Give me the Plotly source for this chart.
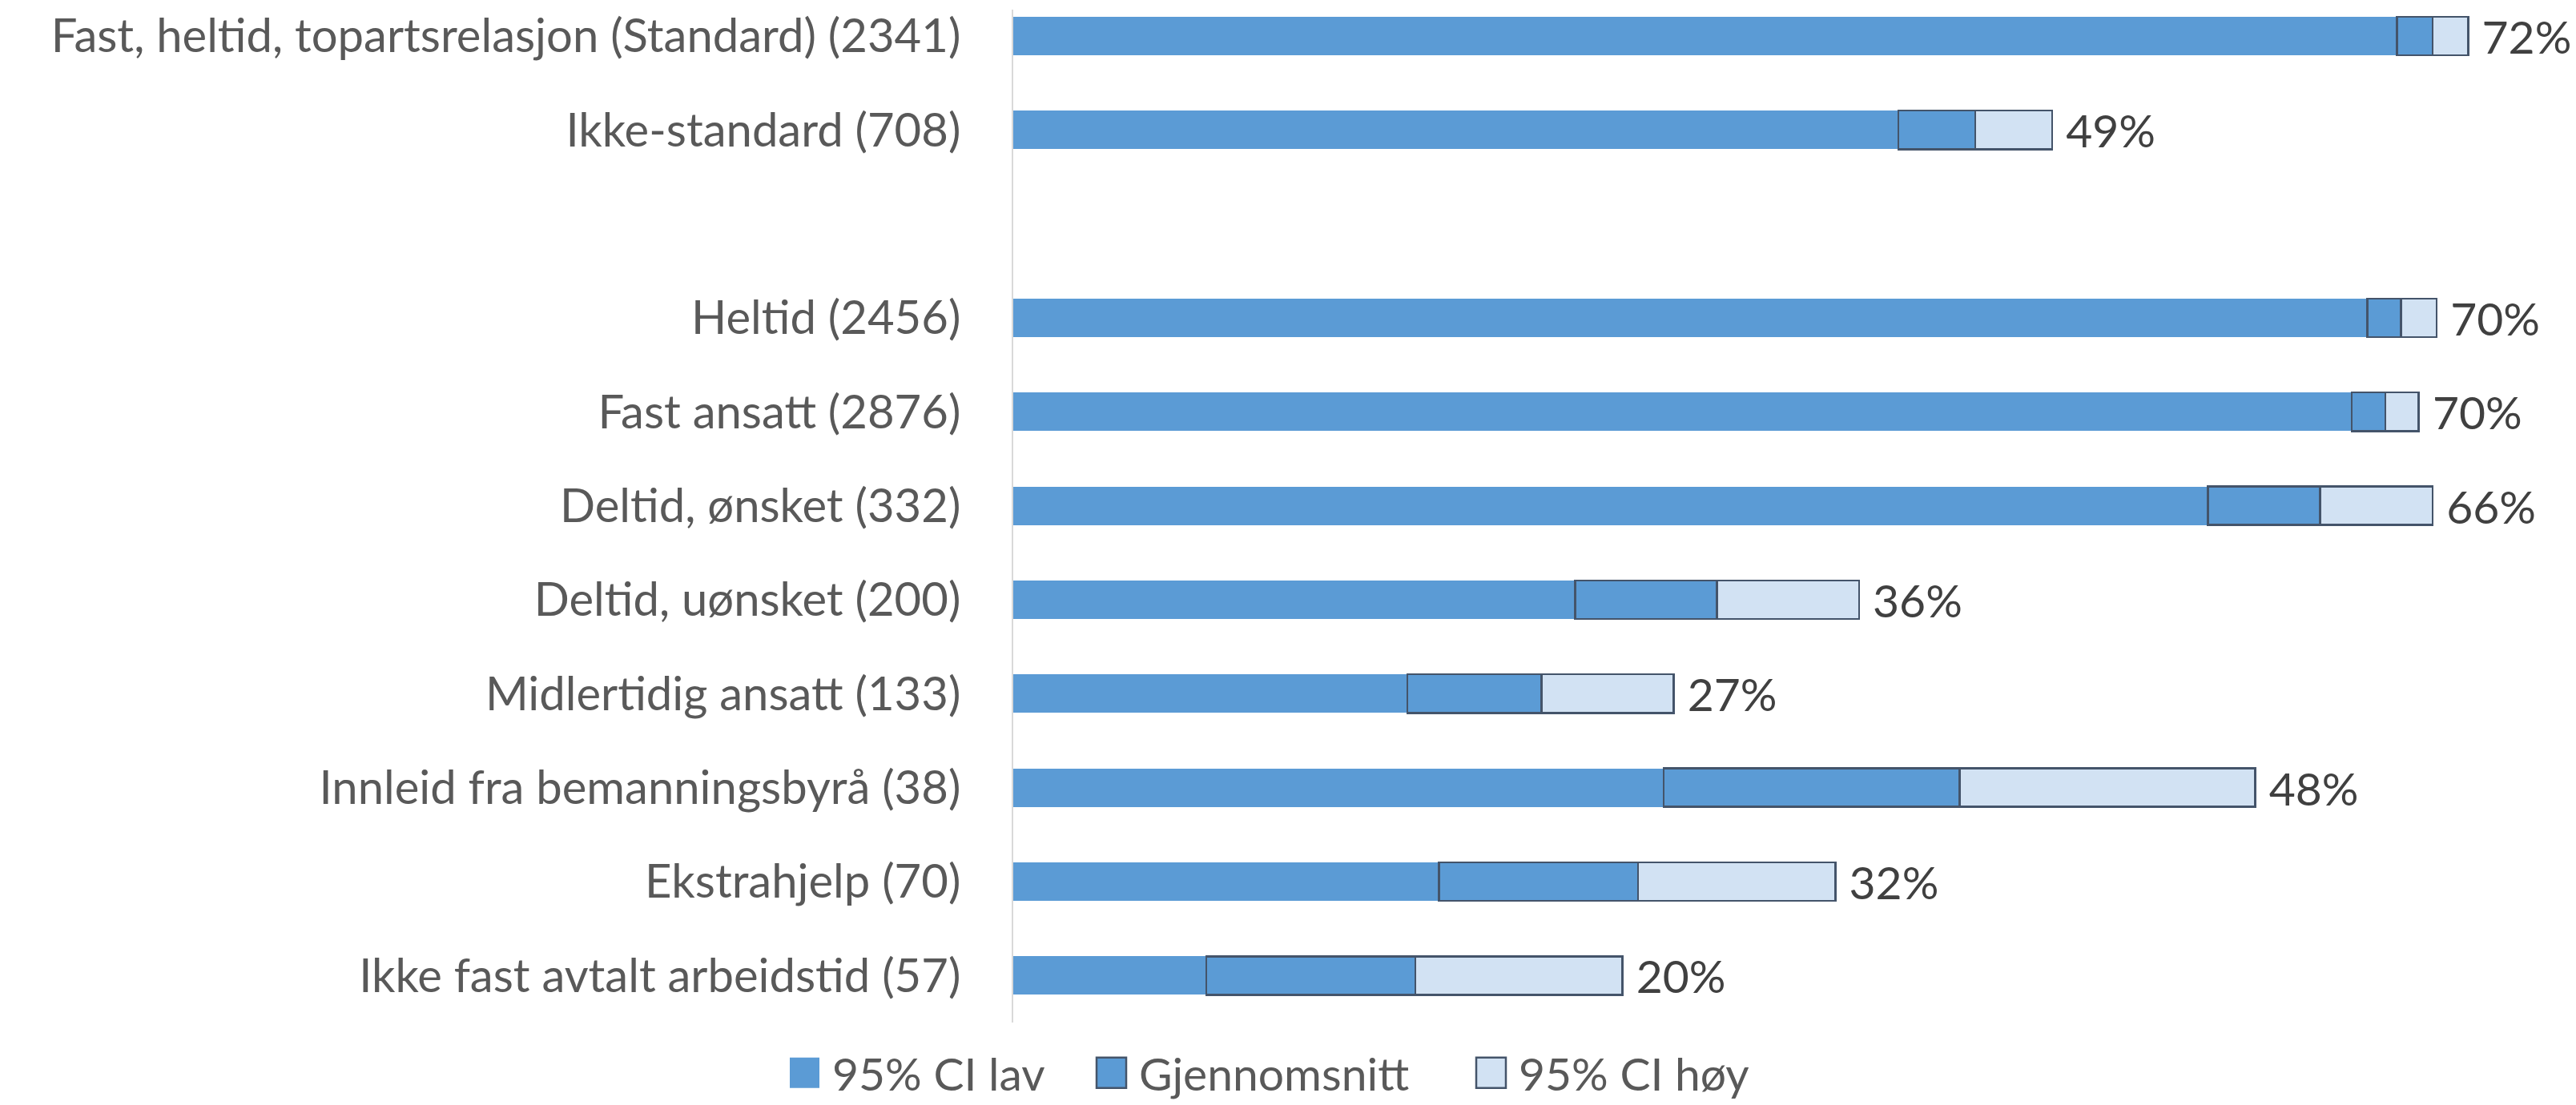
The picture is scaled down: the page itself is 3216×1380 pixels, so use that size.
import plotly.graph_objects as go

# categories, top to bottom (" " is the empty spacer row)
categories = [
    "Fast, heltid, topartsrelasjon (Standard) (2341)",
    "Ikke-standard (708)",
    " ",
    "Heltid (2456)",
    "Fast ansatt (2876)",
    "Deltid, ønsket (332)",
    "Deltid, uønsket (200)",
    "Midlertidig ansatt (133)",
    "Innleid fra bemanningsbyrå (38)",
    "Ekstrahjelp (70)",
    "Ikke fast avtalt arbeidstid (57)",
]
# percent values
ci_low = [70.2, 44.9, None, 68.7, 67.9, 60.6, 28.5, 20.0, 33.0, 21.6, 9.8]
mean = [72.0, 48.8, None, 70.4, 69.6, 66.3, 35.7, 26.8, 48.0, 31.7, 20.4]
ci_high = [73.8, 52.7, None, 72.2, 71.3, 72.0, 42.9, 33.5, 63.0, 41.7, 30.9]
mean_labels = ["72%", "49%", "", "70%", "70%", "66%", "36%", "27%", "48%", "32%", "20%"]

series_names = ["95% CI lav", "Gjennomsnitt", "95% CI høy"]

seg_mean = [None if m is None else m - l for l, m in zip(ci_low, mean)]
seg_high = [None if h is None else h - m for m, h in zip(mean, ci_high)]

FONT = "Lato"
FS = 57
outline = "#44546A"
c_low, c_mid, c_high = "#5B9BD5", "#5B9BD5", "#D2E2F3"

# figure geometry (px); the page body adds an 8px offset
W, H = 3216, 1380
L, B = 1257, 111
PW, PH = W - L, H - B

fig = go.Figure()
fig.add_trace(go.Bar(y=categories, x=ci_low, orientation="h", name=series_names[0],
                     marker=dict(color=c_low, line=dict(width=0))))
fig.add_trace(go.Bar(y=categories, x=seg_mean, orientation="h", name=series_names[1],
                     marker=dict(color=c_mid, line=dict(color=outline, width=2.5))))
fig.add_trace(go.Bar(y=categories, x=seg_high, orientation="h", name=series_names[2],
                     marker=dict(color=c_high, line=dict(color=outline, width=2.5)),
                     text=mean_labels, texttemplate="\u2005%{text}",
                     textposition="outside", cliponaxis=False, constraintext="none",
                     textfont=dict(family=FONT, size=FS, color="#404040")))

# legend drawn by hand so the swatches can be as large as in the original
legend_items = [(978, series_names[0], c_low, 0), (1361, series_names[1], c_mid, 2.5),
                (1835, series_names[2], c_high, 2.5)]
ly = 1332
for px, name, col, lw in legend_items:
    x0 = (px - L) / PW
    x1 = (px + 37 - L) / PW
    fig.add_shape(type="rect", xref="paper", yref="paper",
                  x0=x0, x1=x1, y0=(PH - (ly - 19)) / PH, y1=(PH - (ly + 19)) / PH,
                  fillcolor=col, line=dict(color=outline if lw else col, width=lw or 0))
    fig.add_annotation(xref="paper", yref="paper", x=(px + 52 - L) / PW, y=(PH - ly) / PH,
                       text=name, showarrow=False, xanchor="left", yanchor="middle",
                       borderpad=0, font=dict(family=FONT, size=57, color="#595959"))

fig.update_layout(
    width=W, height=H,
    barmode="stack", bargap=0.59,
    plot_bgcolor="white", paper_bgcolor="white",
    margin=dict(l=L, r=0, t=0, b=B),
    font=dict(family=FONT, size=FS, color="#595959"),
    showlegend=False,
    xaxis=dict(range=[0, 79.6], visible=False, showgrid=False, zeroline=False),
    yaxis=dict(categoryorder="array", categoryarray=categories, range=[10.5, -0.28],
               showgrid=False, zeroline=False, showline=True, linecolor="#D9D9D9",
               linewidth=2, ticks="", ticklabelstandoff=52,
               tickfont=dict(family=FONT, size=58, color="#595959")),
)

fig.write_html("out.html")
